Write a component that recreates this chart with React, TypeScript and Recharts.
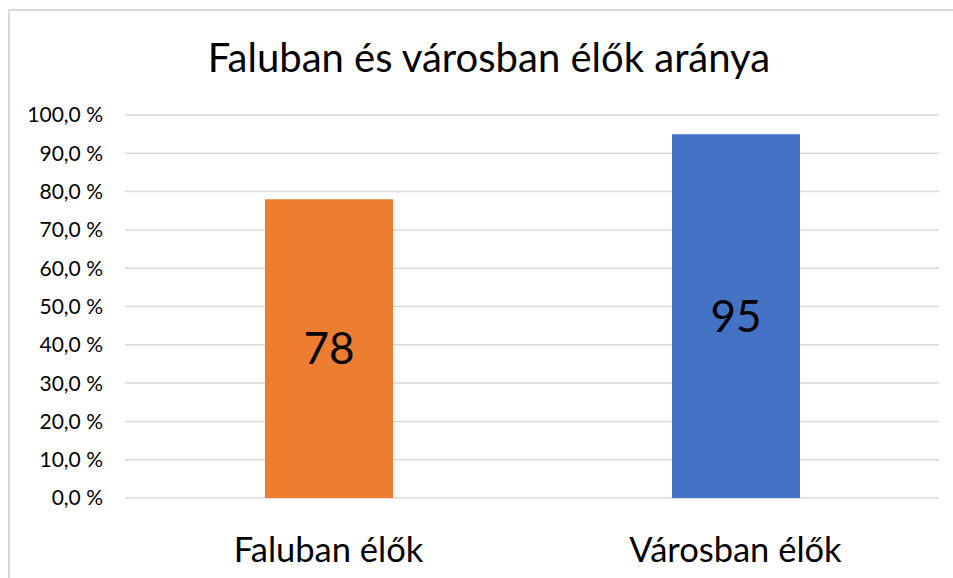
import { BarChart, Bar, XAxis, YAxis, CartesianGrid, Cell, LabelList } from 'recharts';

const categories = ['Faluban élők', 'Városban élők'];
const shares = [78, 95];
const barColors = ['#ED7D31', '#4472C4'];
const yTicks = [0, 10, 20, 30, 40, 50, 60, 70, 80, 90, 100];

const data = categories.map((name, i) => ({ name, value: shares[i] }));

const font = 'Lato, "Noto Sans", sans-serif';

const fmtPct = (v: number) => `${v.toFixed(1).replace('.', ',')} %`;

export default function App() {
  return (
    <div style={{ position: 'absolute', left: 0, top: 0, width: 953, height: 578, background: '#fff', overflow: 'hidden', fontFamily: font }}>
      <div
        style={{
          position: 'absolute',
          left: 8,
          top: 9,
          width: 960,
          height: 600,
          border: '2px solid #d9d9d9',
          boxSizing: 'border-box',
        }}
      />
      <div
        style={{
          position: 'absolute',
          left: 0,
          top: 34,
          width: 978,
          textAlign: 'center',
          fontSize: 40,
          lineHeight: '46px',
          color: '#000',
        }}
      >
        Faluban és városban élők aránya
      </div>
      <BarChart
        width={953}
        height={578}
        data={data}
        margin={{ top: 115, right: 14, bottom: 10, left: 0 }}
        style={{ position: 'absolute', left: 0, top: 0 }}
      >
        <CartesianGrid vertical={false} stroke="#d9d9d9" strokeWidth={1.5} />
        <XAxis
          dataKey="name"
          axisLine={false}
          tickLine={false}
          tickSize={0}
          tickMargin={40}
          height={70}
          interval={0}
          tick={{ fill: '#000', fontSize: 34.5, fontFamily: font }}
        />
        <YAxis
          domain={[0, 100]}
          ticks={yTicks}
          axisLine={false}
          tickLine={false}
          tickSize={0}
          tickMargin={22}
          width={125}
          tickFormatter={fmtPct}
          tick={{ fill: '#000', fontSize: 21, fontFamily: font }}
        />
        <Bar dataKey="value" barSize={128} isAnimationActive={false}>
          {data.map((d, i) => (
            <Cell key={d.name} fill={barColors[i]} />
          ))}
          <LabelList dataKey="value" position="center" fill="#000" fontSize={44} fontFamily={font} />
        </Bar>
      </BarChart>
    </div>
  );
}
